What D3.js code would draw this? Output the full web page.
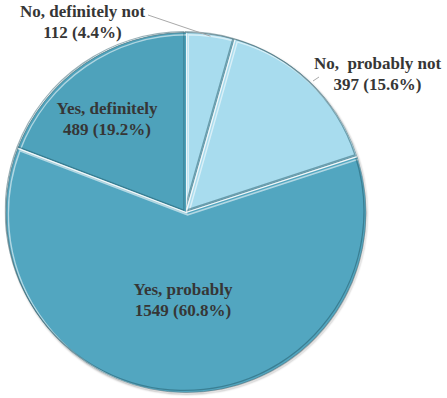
<!DOCTYPE html>
<html>
<head>
<meta charset="utf-8">
<script src="https://cdn.jsdelivr.net/npm/d3@7"></script>
<style>
  body { margin: 0; background: #fff; }
  svg { display: block; }
  .lbl { font-family: "Liberation Serif", "Times New Roman", serif; font-weight: bold; font-size: 17px; fill: #363636; white-space: pre; }
</style>
</head>
<body>
<svg width="447" height="398"></svg>
<script>
// answers, clockwise from 12 o'clock
var categories = ["No, definitely not", "No,  probably not", "Yes, probably", "Yes, definitely"];
var counts = [112, 397, 1549, 489];
var percents = ["4.4%", "15.6%", "60.8%", "19.2%"];

// label anchor (centre of text block) for each slice
var labelPos = [[82.5, 10], [377.5, 62], [183, 288], [107, 107]];

var svg = d3.select("svg"),
    cx = 186, cy = 212.5, r = 180;

var color = d3.scaleOrdinal()
    .domain(categories)
    .range(["#a8dcee", "#a8dcee", "#52a6c0", "#4ea2bb"]);

var pie = d3.pie().sort(null).value(function(d) { return d.n; });
var arc = d3.arc().innerRadius(0).outerRadius(r);

var data = categories.map(function(c, i) { return {cat: c, n: counts[i], pct: percents[i], pos: labelPos[i]}; });
var arcs = pie(data);

var defs = svg.append("defs");
defs.append("filter").attr("id", "shadow")
    .attr("x", "-10%").attr("y", "-10%").attr("width", "120%").attr("height", "120%")
  .append("feDropShadow")
    .attr("dx", 1).attr("dy", 1.5).attr("stdDeviation", 1.2)
    .attr("flood-color", "#000").attr("flood-opacity", 0.45);

arcs.forEach(function(d, i) {
  defs.append("clipPath").attr("id", "clip" + i)
    .append("path").attr("d", arc(d));
});

var g = svg.append("g").attr("transform", "translate(" + cx + "," + cy + ")");

// outer shadow ring
g.append("circle").attr("r", r).attr("fill", "#52a6c0").attr("filter", "url(#shadow)");

var slices = g.selectAll("g.slice")
    .data(arcs)
  .enter().append("g")
    .attr("class", "slice");

slices.append("path")
    .attr("d", arc)
    .attr("fill", function(d) { return color(d.data.cat); });

// bevel: light top-left edge, dark bottom-right edge, clipped to slice
slices.append("path")
    .attr("d", arc)
    .attr("clip-path", function(d, i) { return "url(#clip" + i + ")"; })
    .attr("transform", "translate(1.6,1.6)")
    .attr("fill", "none")
    .attr("stroke", "#ffffff")
    .attr("stroke-opacity", 0.55)
    .attr("stroke-width", 3);

slices.append("path")
    .attr("d", arc)
    .attr("clip-path", function(d, i) { return "url(#clip" + i + ")"; })
    .attr("transform", "translate(-1.4,-1.4)")
    .attr("fill", "none")
    .attr("stroke", "#1d4f5e")
    .attr("stroke-opacity", 0.45)
    .attr("stroke-width", 2.5);

// white separators between slices
slices.append("path")
    .attr("d", function(d) {
      var a = d.startAngle;
      return "M0,0L" + (r * Math.sin(a)) + "," + (-r * Math.cos(a));
    })
    .attr("stroke", "#f4f8f9")
    .attr("stroke-width", 1.3);

// outer rim
g.append("circle").attr("r", r).attr("fill", "none")
    .attr("stroke", "#5c6d72").attr("stroke-opacity", 0.6).attr("stroke-width", 0.8);

// leader for the thin slice
var a0 = (arcs[0].startAngle + arcs[0].endAngle) / 2;
svg.append("line")
    .attr("x1", 148).attr("y1", 15)
    .attr("x2", cx + (r - 2) * Math.sin(a0)).attr("y2", cy - (r - 2) * Math.cos(a0))
    .attr("stroke", "#a9a9a9").attr("stroke-width", 1);

svg.append("line")
    .attr("x1", 313).attr("y1", 81)
    .attr("x2", 319).attr("y2", 77)
    .attr("stroke", "#a9a9a9").attr("stroke-width", 1);

var labels = svg.selectAll("text.lbl")
    .data(data)
  .enter().append("text")
    .attr("class", "lbl")
    .attr("text-anchor", "middle")
    .attr("transform", function(d) { return "translate(" + d.pos[0] + "," + d.pos[1] + ")"; });

labels.append("tspan").attr("x", 0).attr("dy", "0.4em").text(function(d) { return d.cat; });
labels.append("tspan").attr("x", 0).attr("dy", 21.5).text(function(d) { return d.n + " (" + d.pct + ")"; });
</script>
</body>
</html>
